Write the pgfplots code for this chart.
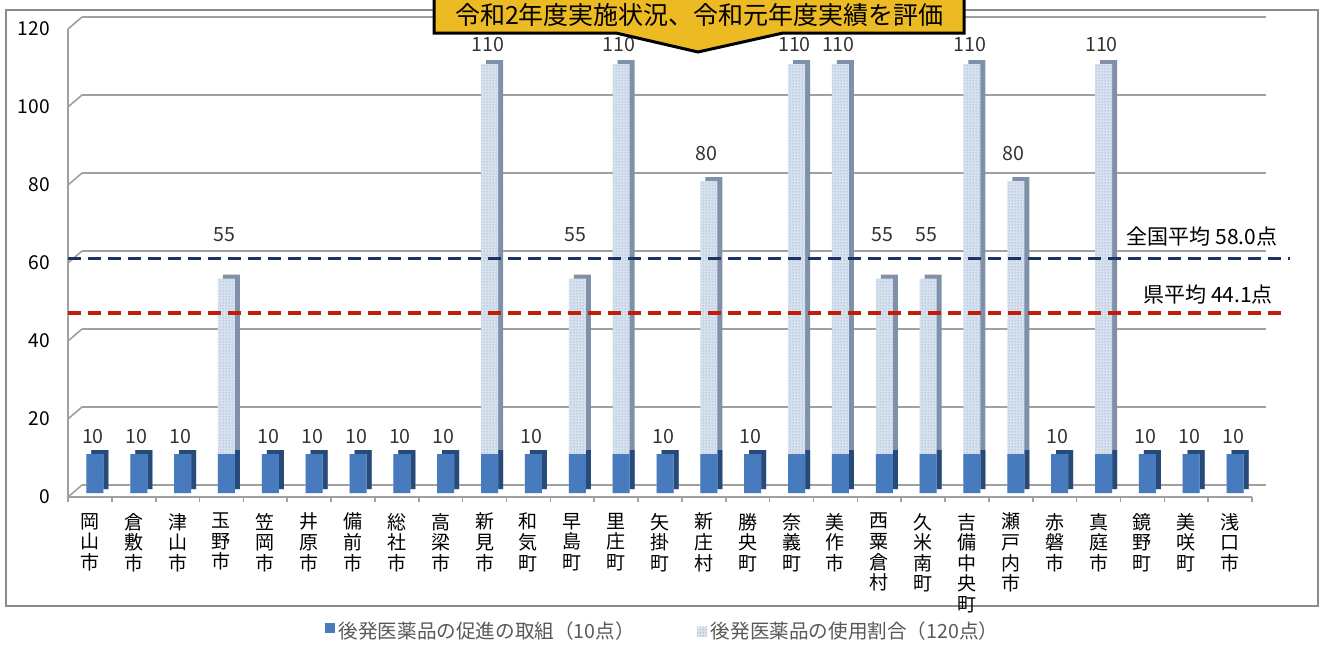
\documentclass[border=0pt]{standalone}
\usepackage{pgfplots}
\pgfplotsset{compat=1.18}
\usepackage{pgfplotstable}
\usepackage{fontspec}
\setmainfont{Noto Sans CJK JP}
\usetikzlibrary{patterns.meta}

\definecolor{blueF}{RGB}{72,122,190}
\definecolor{blueD}{RGB}{38,74,122}
\definecolor{useF}{RGB}{214,226,240}
\definecolor{useD}{RGB}{128,144,168}
\definecolor{dotC}{RGB}{150,168,192}
\definecolor{navyL}{RGB}{31,50,100}
\definecolor{redL}{RGB}{192,30,10}
\definecolor{banner}{RGB}{236,186,34}
\definecolor{gridC}{RGB}{160,160,160}

\tikzdeclarepattern{
  name=finedots, type=uncolored,
  bounding box={(0,0) and (1.5pt,1.5pt)},
  tile size={(1.5pt,1.5pt)},
  code={\fill (0.75pt,0.75pt) circle (0.35pt);}
}

% idx: municipality, blue: promotion score, usage: usage-ratio score, laby: label height
\pgfplotstableread{
idx blue usage laby
0  10 0   15.4
1  10 0   15.4
2  10 0   15.4
3  10 45  67.2
4  10 0   15.4
5  10 0   15.4
6  10 0   15.4
7  10 0   15.4
8  10 0   15.4
9  10 100 115.9
10 10 0   15.4
11 10 45  67.2
12 10 100 115.9
13 10 0   15.4
14 10 70  88.2
15 10 0   15.4
16 10 100 115.9
17 10 100 115.9
18 10 45  67.2
19 10 45  67.2
20 10 100 115.9
21 10 70  88.2
22 10 0   15.4
23 10 100 115.9
24 10 0   15.4
25 10 0   15.4
26 10 0   15.4
}\scores

\begin{document}
\begin{tikzpicture}
\useasboundingbox (0,0) rectangle (661.5pt,322.5pt);
\draw[gray!90, line width=0.6pt] (3pt,19.5pt) rectangle (659pt,317.5pt);

\begin{axis}[
  at={(34pt,74pt)}, anchor=south west,
  width=592pt, height=234pt, scale only axis,
  xmin=-0.5, xmax=26.5, ymin=0, ymax=120,
  clip=false,
  axis lines*=left,
  axis line style={draw=gridC, line width=0.9pt},
  ytick={0,20,...,120},
  xtick={0,...,26},
  xticklabels={{岡\\山\\市},{倉\\敷\\市},{津\\山\\市},{玉\\野\\市},{笠\\岡\\市},{井\\原\\市},{備\\前\\市},{総\\社\\市},{高\\梁\\市},{新\\見\\市},{和\\気\\町},{早\\島\\町},{里\\庄\\町},{矢\\掛\\町},{新\\庄\\村},{勝\\央\\町},{奈\\義\\町},{美\\作\\市},{西\\粟\\倉\\村},{久\\米\\南\\町},{吉\\備\\中\\央\\町},{瀬\\戸\\内\\市},{赤\\磐\\市},{真\\庭\\市},{鏡\\野\\町},{美\\咲\\町},{浅\\口\\市}},
  major tick length=0pt,
  minor xtick={-0.5,0.5,...,26.5},
  minor tick length=2.5pt,
  tick align=outside,
  minor tick style={draw=gridC, line width=0.8pt},
  xticklabel style={font=\fontsize{9.5}{10.3}\selectfont, align=center, anchor=north, yshift=-4.5pt},
  yticklabel style={font=\fontsize{9.6}{11}\selectfont, xshift=-5.5pt},
  /pgf/number format/assume math mode=true,
  ymajorgrids,
  major grid style={draw=gridC, line width=1pt, xshift=7pt, yshift=6pt},
  legend style={at={(0.503,-0.288)}, anchor=center, draw=none, fill=none,
    legend columns=2, font=\fontsize{9.8}{11}\selectfont, text=black!65,
    /tikz/every even column/.append style={column sep=29pt}},
]

% slanted edges joining the front axis to the back wall
\pgfplotsinvokeforeach{0,20,...,120}{
  \draw[gridC, line width=0.8pt] (axis cs:-0.5,#1) -- ++(7pt,6pt);
}

% bar depth (side faces)
\addplot[ybar, bar width=8.5pt, bar shift=0pt, xshift=5pt, yshift=4pt,
  fill=useD, draw=none, forget plot]
  table[x=idx, y expr=\thisrow{blue}+\thisrow{usage}] {\scores};
\addplot[ybar, bar width=8.5pt, bar shift=0pt, xshift=5pt, yshift=4pt,
  fill=blueD, draw=none, forget plot]
  table[x=idx, y=blue] {\scores};

% front faces
\addplot[ybar, bar width=8.5pt, bar shift=0pt, xshift=2.5pt, yshift=2pt,
  fill=useF, draw=none, forget plot,
  postaction={pattern=finedots, pattern color=dotC}]
  table[x=idx, y expr=\thisrow{blue}+\thisrow{usage}] {\scores};
\addplot[ybar, bar width=8.5pt, bar shift=0pt, xshift=2.5pt, yshift=2pt,
  fill=blueF, draw=none,
  legend image code/.code={\fill[blueF] (0pt,-2.6pt) rectangle (5pt,2.4pt);}]
  table[x=idx, y=blue] {\scores};
\addlegendentry{後発医薬品の促進の取組（10点）}
\addplot[draw=none, mark=none,
  legend image code/.code={\fill[useF] (0pt,-2.6pt) rectangle (5pt,2.4pt);
    \fill[pattern=finedots, pattern color=gray!70] (0pt,-2.6pt) rectangle (5pt,2.4pt);}]
  coordinates {(0,0)};
\addlegendentry{後発医薬品の使用割合（120点）}

% total score labels
\addplot[draw=none, mark=none, forget plot,
  point meta={\thisrow{blue}+\thisrow{usage}},
  nodes near coords, nodes near coords align={center},
  every node near coord/.append style={font=\fontsize{9.8}{11}\selectfont, text=black!80, xshift=1.5pt}]
  table[x=idx, y=laby] {\scores};

% national and prefectural averages
\addplot[navyL, line width=1.6pt, dash pattern=on 6.5pt off 3.5pt, xshift=7pt, yshift=6pt, forget plot]
  coordinates {(-0.82,58.0) (27.05,58.0)};
\addplot[redL, line width=1.6pt, dash pattern=on 6.5pt off 3.5pt, xshift=7pt, yshift=6pt, forget plot]
  coordinates {(-0.82,44.1) (26.86,44.1)};
\node[font=\fontsize{10.5}{12}\selectfont] at (axis cs:25.36,66.7) {全国平均 58.0点};
\node[font=\fontsize{10.5}{12}\selectfont] at (axis cs:25.5,51.8) {県平均 44.1点};
\end{axis}

% banner
\draw[fill=banner, line width=1.5pt, line join=miter]
  (217pt,326pt) -- (482pt,326pt) -- (482pt,306pt) -- (391.5pt,306pt)
  -- (349pt,296.5pt) -- (308pt,306pt) -- (217pt,306pt) -- cycle;
\node[font=\fontsize{12.5}{14}\selectfont] at (349.75pt,315pt) {令和2年度実施状況、令和元年度実績を評価};
\end{tikzpicture}
\end{document}
